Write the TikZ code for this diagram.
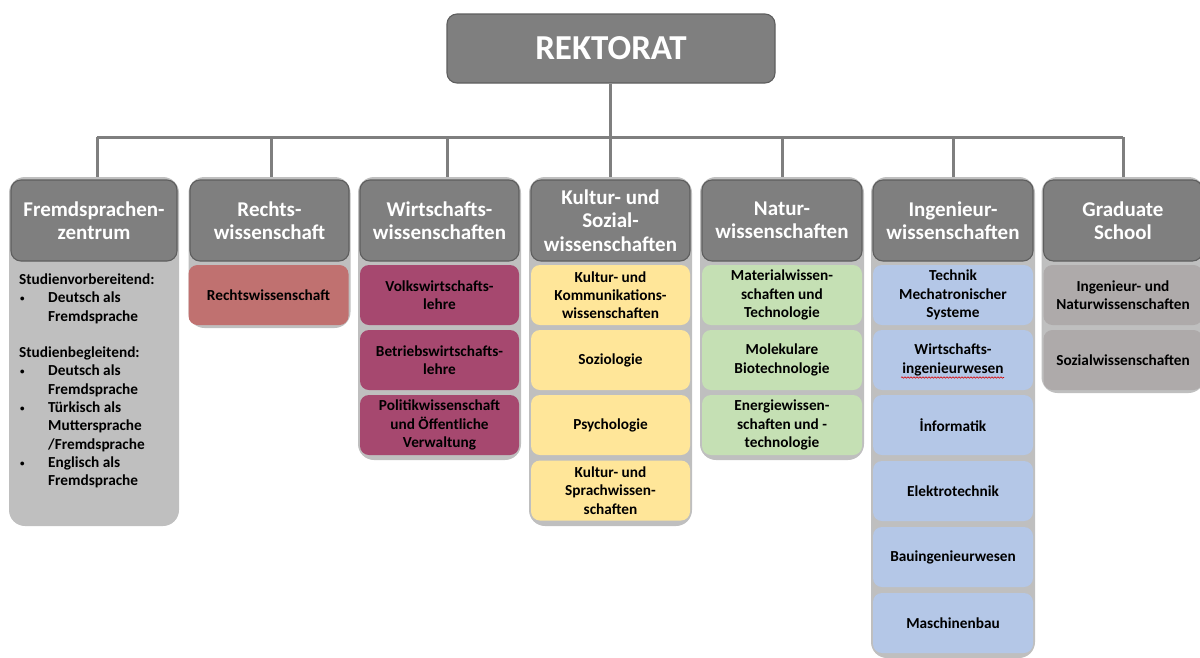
\documentclass[tikz,border=0pt]{standalone}
\usepackage{fontspec}
\setmainfont{Carlito}
\usetikzlibrary{decorations.pathmorphing}

\definecolor{headgray}{HTML}{7F7F7F}
\definecolor{headedge}{HTML}{5E5E5E}
\definecolor{panelgray}{HTML}{BFBFBF}
\definecolor{linkgray}{HTML}{7F7F7F}
\definecolor{rechtred}{HTML}{C07170}
\definecolor{wiwimag}{HTML}{A6486F}
\definecolor{kulturyel}{HTML}{FFE699}
\definecolor{naturgreen}{HTML}{C5E0B4}
\definecolor{ingblue}{HTML}{B4C7E7}
\definecolor{gradgray}{HTML}{AEAAAA}

\newcommand\hdfont{\bfseries\fontsize{21}{23.5}\selectfont}
\newcommand\sbfont{\bfseries\fontsize{15.3}{18.3}\selectfont}
\newcommand\bul{\makebox[29pt][l]{\hspace{1pt}\raisebox{1pt}{\fontsize{9}{9}\selectfont•}}}
\newcommand\ind{\hspace*{29pt}}

\tikzset{
  panel/.style={fill=panelgray, draw=none, rounded corners=16pt, inner sep=0pt},
  head/.style={fill=headgray, draw=headedge, line width=1.1pt, rounded corners=10pt,
    text=white, font=\hdfont, align=center, inner sep=0pt, minimum height=81pt},
  sub/.style={draw=none, rounded corners=9pt, font=\sbfont, align=center,
    text=black, inner sep=0pt, minimum height=60pt},
  link/.style={draw=linkgray, line width=3pt},
}

\begin{document}
\begin{tikzpicture}[x=1pt,y=-1pt]
\useasboundingbox (0,0) rectangle (1200,657);
\clip (0,0) rectangle (1200,657);

% background panels of the seven columns
\node[panel, minimum width=170pt, minimum height=349pt] (p1) at (94,351.5) {};
\node[panel, minimum width=162pt, minimum height=151pt] (p2) at (269.5,252.5) {};
\node[panel, minimum width=163pt, minimum height=283pt] (p3) at (439.5,318.5) {};
\node[panel, minimum width=163pt, minimum height=349pt] (p4) at (610.5,351.5) {};
\node[panel, minimum width=164pt, minimum height=283pt] (p5) at (782,318.5) {};
\node[panel, minimum width=164pt, minimum height=481pt] (p6) at (953,417.5) {};
\node[panel, minimum width=163pt, minimum height=216pt] (p7) at (1123,285) {};

% top box
\node[head, font=\bfseries\fontsize{35}{40}\selectfont, minimum width=328pt,
      minimum height=69pt] (rek) at (611,48.5) {REKTORAT};

% column headers
\node[head, minimum width=166pt] (h1) at (94,220.5) {Fremdsprachen-\\zentrum};
\node[head, minimum width=159pt] (h2) at (269.5,220.5) {Rechts-\\wissenschaft};
\node[head, minimum width=159pt] (h3) at (439.5,220.5) {Wirtschafts-\\wissenschaften};
\node[head, minimum width=159pt] (h4) at (610.5,220.5) {Kultur- und\\Sozial-\\wissenschaften};
\node[head, minimum width=160pt] (h5) at (782,220.5) {Natur-\\wissenschaften};
\node[head, minimum width=160pt] (h6) at (953,220.5) {Ingenieur-\\wissenschaften};
\node[head, minimum width=159pt] (h7) at (1123,220.5) {Graduate\\School};

% language centre
\node[font=\sbfont, align=left, inner sep=0pt, anchor=north west] (fsz) at (19,273.5)
  {Studienvorbereitend:\\
   \bul Deutsch als\\
   \ind Fremdsprache\\[18.3pt]
   Studienbegleitend:\\
   \bul Deutsch als\\
   \ind Fremdsprache\\
   \bul Türkisch als\\
   \ind Muttersprache\\
   \ind /Fremdsprache\\
   \bul Englisch als\\
   \ind Fremdsprache};

% law
\node[sub, fill=rechtred, minimum width=160pt] (s21) at (268.5,295) {Rechtswissenschaft};

% economics
\node[sub, fill=wiwimag, minimum width=159pt] (s31) at (439.5,295) {Volkswirtschafts-\\lehre};
\node[sub, fill=wiwimag, minimum width=159pt] (s32) at (439.5,360) {Betriebswirtschafts-\\lehre};
\node[sub, fill=wiwimag, minimum width=159pt] (s33) at (439.5,425) {Politikwissenschaft\\und Öffentliche\\Verwaltung};

% cultural and social sciences
\node[sub, fill=kulturyel, minimum width=159pt] (s41) at (610.5,295) {Kultur- und\\Kommunikations-\\wissenschaften};
\node[sub, fill=kulturyel, minimum width=159pt] (s42) at (610.5,360) {Soziologie};
\node[sub, fill=kulturyel, minimum width=159pt] (s43) at (610.5,425) {Psychologie};
\node[sub, fill=kulturyel, minimum width=159pt] (s44) at (610.5,490.5) {Kultur- und\\Sprachwissen-\\schaften};

% natural sciences
\node[sub, fill=naturgreen, minimum width=160pt] (s51) at (782,295) {Materialwissen-\\schaften und\\Technologie};
\node[sub, fill=naturgreen, minimum width=160pt] (s52) at (782,360) {Molekulare\\Biotechnologie};
\node[sub, fill=naturgreen, minimum width=160pt] (s53) at (782,425) {Energiewissen-\\schaften und -\\technologie};

% engineering
\node[sub, fill=ingblue, minimum width=160pt] (s61) at (953,295) {Technik\\Mechatronischer\\Systeme};
\node[sub, fill=ingblue, minimum width=160pt] (s62) at (953,360) {Wirtschafts-\\ingenieurwesen};
\node[sub, fill=ingblue, minimum width=160pt] (s63) at (953,425) {İnformatik};
\node[sub, fill=ingblue, minimum width=160pt] (s64) at (953,491) {Elektrotechnik};
\node[sub, fill=ingblue, minimum width=160pt] (s65) at (953,557) {Bauingenieurwesen};
\node[sub, fill=ingblue, minimum width=160pt] (s66) at (953,623) {Maschinenbau};

% spell-check squiggle under the second engineering entry
\draw[red!85!black, line width=0.6pt,
      decorate, decoration={snake, segment length=3pt, amplitude=0.7pt}]
  ([xshift=-52pt, yshift=-17.5pt]s62.center) -- ([xshift=51pt, yshift=-17.5pt]s62.center);

% graduate school
\node[sub, fill=gradgray, minimum width=159pt] (s71) at (1123,295) {Ingenieur- und\\Naturwissenschaften};
\node[sub, fill=gradgray, minimum width=159pt] (s72) at (1123,360) {Sozialwissenschaften};

% connector tree
\coordinate (d1) at (97,137);
\coordinate (d2) at (271,137);
\coordinate (d3) at (447,137);
\coordinate (d4) at (610,137);
\coordinate (d5) at (782,137);
\coordinate (d6) at (953,137);
\coordinate (d7) at (1123,137);
\draw[link] (rek.south -| d4) -- (d4);
\draw[link] (d1) -- (d7);
\foreach \k in {1,...,7} {
  \draw[link] (d\k) -- (d\k |- p\k.north);
}
\end{tikzpicture}
\end{document}
